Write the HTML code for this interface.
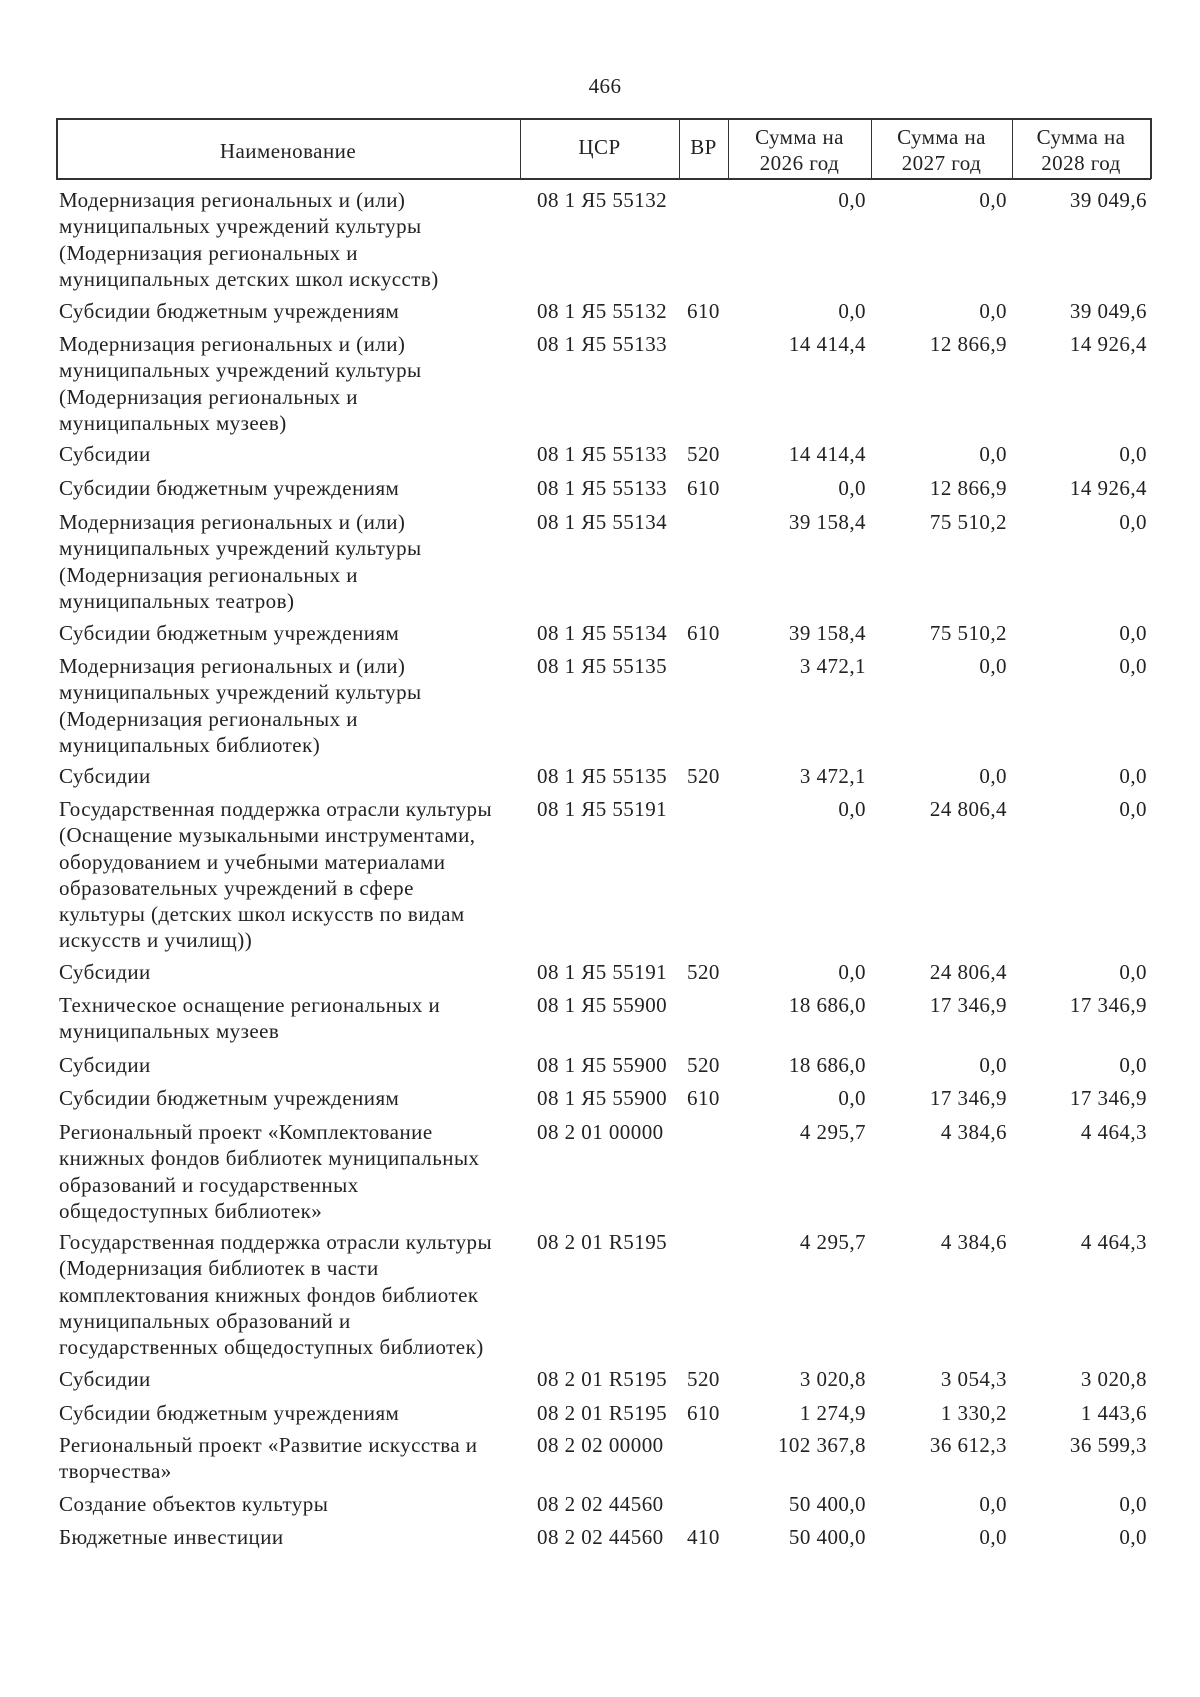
<!DOCTYPE html>
<html><head><meta charset="utf-8">
<style>
html,body{margin:0;padding:0;background:#fff;}
body{width:1200px;height:1697px;position:relative;overflow:hidden;font-family:"Liberation Serif","DejaVu Serif",serif;font-size:21px;color:#222;}
.t{position:absolute;white-space:nowrap;line-height:26.3px;letter-spacing:0.45px;}
.r{text-align:right;}
.hl{position:absolute;background:#333;}
</style></head><body>
<div class="t" style="left:580px;top:73px;width:50px;text-align:center;">466</div>
<div class="hl" style="left:56px;top:118px;width:1095px;height:1.5px;"></div>
<div class="hl" style="left:56px;top:178px;width:1095px;height:1.5px;"></div>
<div class="hl" style="left:56px;top:118px;width:1.5px;height:61px;"></div>
<div class="hl" style="left:520px;top:118px;width:1px;height:61px;"></div>
<div class="hl" style="left:679px;top:118px;width:1px;height:61px;"></div>
<div class="hl" style="left:728px;top:118px;width:1px;height:61px;"></div>
<div class="hl" style="left:871px;top:118px;width:1px;height:61px;"></div>
<div class="hl" style="left:1012px;top:118px;width:1px;height:61px;"></div>
<div class="hl" style="left:1150px;top:118px;width:1.5px;height:61px;"></div>
<div class="t" style="left:56px;top:138px;width:464px;text-align:center;">Наименование</div>
<div class="t" style="left:520px;top:134px;width:159px;text-align:center;">ЦСР</div>
<div class="t" style="left:679px;top:134px;width:49px;text-align:center;">ВР</div>
<div class="t" style="left:728px;top:124px;width:143px;text-align:center;">Сумма на<br>2026 год</div>
<div class="t" style="left:871px;top:124px;width:141px;text-align:center;">Сумма на<br>2027 год</div>
<div class="t" style="left:1012px;top:124px;width:138px;text-align:center;">Сумма на<br>2028 год</div>

<div id="rows"></div>
<script>
var R=[
[185,"Модернизация региональных и (или)<br>муниципальных учреждений культуры<br>(Модернизация региональных и<br>муниципальных детских школ искусств)","08 1 Я5 55132","","0,0","0,0","39 049,6"],
[288,"Субсидии бюджетным учреждениям","08 1 Я5 55132","610","0,0","0,0","39 049,6"],
[318,"Модернизация региональных и (или)<br>муниципальных учреждений культуры<br>(Модернизация региональных и<br>муниципальных музеев)","08 1 Я5 55133","","14 414,4","12 866,9","14 926,4"],
[420,"Субсидии","08 1 Я5 55133","520","14 414,4","0,0","0,0"],
[451,"Субсидии бюджетным учреждениям","08 1 Я5 55133","610","0,0","12 866,9","14 926,4"],
[483,"Модернизация региональных и (или)<br>муниципальных учреждений культуры<br>(Модернизация региональных и<br>муниципальных театров)","08 1 Я5 55134","","39 158,4","75 510,2","0,0"],
[586,"Субсидии бюджетным учреждениям","08 1 Я5 55134","610","39 158,4","75 510,2","0,0"],
[616,"Модернизация региональных и (или)<br>муниципальных учреждений культуры<br>(Модернизация региональных и<br>муниципальных библиотек)","08 1 Я5 55135","","3 472,1","0,0","0,0"],
[718,"Субсидии","08 1 Я5 55135","520","3 472,1","0,0","0,0"],
[748,"Государственная поддержка отрасли культуры<br>(Оснащение музыкальными инструментами,<br>оборудованием и учебными материалами<br>образовательных учреждений в сфере<br>культуры (детских школ искусств по видам<br>искусств и училищ))","08 1 Я5 55191","","0,0","24 806,4","0,0"],
[899,"Субсидии","08 1 Я5 55191","520","0,0","24 806,4","0,0"],
[930,"Техническое оснащение региональных и<br>муниципальных музеев","08 1 Я5 55900","","18 686,0","17 346,9","17 346,9"],
[985,"Субсидии","08 1 Я5 55900","520","18 686,0","0,0","0,0"],
[1016,"Субсидии бюджетным учреждениям","08 1 Я5 55900","610","0,0","17 346,9","17 346,9"],
[1047,"Региональный проект «Комплектование<br>книжных фондов библиотек муниципальных<br>образований и государственных<br>общедоступных библиотек»","08 2 01 00000","","4 295,7","4 384,6","4 464,3"],
[1149,"Государственная поддержка отрасли культуры<br>(Модернизация библиотек в части<br>комплектования книжных фондов библиотек<br>муниципальных образований и<br>государственных общедоступных библиотек)","08 2 01 R5195","","4 295,7","4 384,6","4 464,3"],
[1276,"Субсидии","08 2 01 R5195","520","3 020,8","3 054,3","3 020,8"],
[1307,"Субсидии бюджетным учреждениям","08 2 01 R5195","610","1 274,9","1 330,2","1 443,6"],
[1337,"Региональный проект «Развитие искусства и<br>творчества»","08 2 02 00000","","102 367,8","36 612,3","36 599,3"],
[1391,"Создание объектов культуры","08 2 02 44560","","50 400,0","0,0","0,0"],
[1422,"Бюджетные инвестиции","08 2 02 44560","410","50 400,0","0,0","0,0"]
];
var h="";
R.forEach(function(r){
 var y=Math.round(r[0]*1.081-13);
 h+='<div class="t" style="left:59px;top:'+y+'px">'+r[1]+'</div>';
 h+='<div class="t" style="left:537px;top:'+y+'px">'+r[2]+'</div>';
 h+='<div class="t" style="left:687px;top:'+y+'px">'+r[3]+'</div>';
 h+='<div class="t r" style="left:740px;width:126px;top:'+y+'px">'+r[4]+'</div>';
 h+='<div class="t r" style="left:880px;width:127px;top:'+y+'px">'+r[5]+'</div>';
 h+='<div class="t r" style="left:1020px;width:127px;top:'+y+'px">'+r[6]+'</div>';
});
document.getElementById("rows").innerHTML=h;
</script>
</body></html>
